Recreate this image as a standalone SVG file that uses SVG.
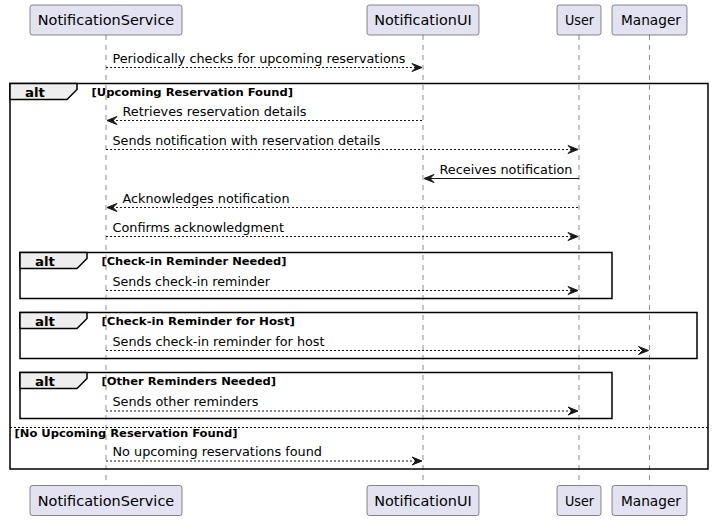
<svg xmlns="http://www.w3.org/2000/svg" width="713" height="521" viewBox="0 0 713 521">
<style>
.life{stroke:#181818;stroke-width:0.5;stroke-dasharray:5,5;fill:none}
.pbox{fill:#E2E2F0;stroke:#181818;stroke-width:0.5}
.ptxt{font-family:"DejaVu Sans",sans-serif;font-size:14px;fill:#000;text-anchor:middle}
.msg{stroke:#181818;stroke-width:1;fill:none}
.dot{stroke-dasharray:2,2}
.head{fill:#181818;stroke:#181818;stroke-width:1}
.mtxt{font-family:"DejaVu Sans",sans-serif;font-size:13px;fill:#000}
.frame{fill:none;stroke:#000;stroke-width:1.5}
.tab{fill:#EEEEEE;stroke:#000;stroke-width:1.5}
.alt{font-family:"DejaVu Sans",sans-serif;font-size:13px;font-weight:bold;fill:#000}
.guard{font-family:"DejaVu Sans",sans-serif;font-size:11px;font-weight:bold;fill:#000}
.sep{stroke:#000;stroke-width:1;stroke-dasharray:2,2;fill:none}
</style>
<defs>
<path id="ar" d="M-10,-4 L0,0 L-10,4 L-6,0 Z"/>
</defs>
<g id="lifelines">
<line class="life" x1="106" y1="35" x2="106" y2="486"/>
<line class="life" x1="423" y1="35" x2="423" y2="486"/>
<line class="life" x1="579" y1="35" x2="579" y2="486"/>
<line class="life" x1="649.5" y1="35" x2="649.5" y2="486"/>
</g>
<g id="frames">
<rect class="frame" x="10" y="83.5" width="698" height="385.5"/>
<path class="tab" d="M10,83.5 L77,83.5 L77,89.5 L67,99.5 L10,99.5 Z"/>
<text class="alt" x="25" y="96.5" textLength="20" lengthAdjust="spacingAndGlyphs">alt</text>
<text class="guard" x="91.5" y="95.5" textLength="201.5" lengthAdjust="spacingAndGlyphs">[Upcoming Reservation Found]</text>
<line class="sep" x1="10" y1="427.5" x2="708" y2="427.5"/>
<text class="guard" x="14.5" y="437" textLength="223" lengthAdjust="spacingAndGlyphs">[No Upcoming Reservation Found]</text>
<rect class="frame" x="20" y="252.5" width="592" height="46"/>
<path class="tab" d="M20,252.5 L87,252.5 L87,258.5 L77,268.5 L20,268.5 Z"/>
<text class="alt" x="35" y="265.5" textLength="20" lengthAdjust="spacingAndGlyphs">alt</text>
<text class="guard" x="101.5" y="264.5" textLength="185" lengthAdjust="spacingAndGlyphs">[Check-in Reminder Needed]</text>
<rect class="frame" x="20" y="312.5" width="677" height="46"/>
<path class="tab" d="M20,312.5 L87,312.5 L87,318.5 L77,328.5 L20,328.5 Z"/>
<text class="alt" x="35" y="325.5" textLength="20" lengthAdjust="spacingAndGlyphs">alt</text>
<text class="guard" x="101.5" y="324.5" textLength="193.5" lengthAdjust="spacingAndGlyphs">[Check-in Reminder for Host]</text>
<rect class="frame" x="20" y="372.5" width="592" height="46"/>
<path class="tab" d="M20,372.5 L87,372.5 L87,378.5 L77,388.5 L20,388.5 Z"/>
<text class="alt" x="35" y="385.5" textLength="20" lengthAdjust="spacingAndGlyphs">alt</text>
<text class="guard" x="101.5" y="384.5" textLength="174.5" lengthAdjust="spacingAndGlyphs">[Other Reminders Needed]</text>
</g>
<g id="NotificationService">
<rect class="pbox" x="30" y="5" width="152" height="30" rx="2.5"/>
<text class="ptxt" x="106" y="25" textLength="136.5" lengthAdjust="spacingAndGlyphs">NotificationService</text>
<rect class="pbox" x="30" y="485.5" width="152" height="30" rx="2.5"/>
<text class="ptxt" x="106" y="505.5" textLength="136.5" lengthAdjust="spacingAndGlyphs">NotificationService</text>
</g>
<g id="NotificationUI">
<rect class="pbox" x="367" y="5" width="112" height="30" rx="2.5"/>
<text class="ptxt" x="423" y="25" textLength="97.5" lengthAdjust="spacingAndGlyphs">NotificationUI</text>
<rect class="pbox" x="367" y="485.5" width="112" height="30" rx="2.5"/>
<text class="ptxt" x="423" y="505.5" textLength="97.5" lengthAdjust="spacingAndGlyphs">NotificationUI</text>
</g>
<g id="User">
<rect class="pbox" x="557" y="5" width="44" height="30" rx="2.5"/>
<text class="ptxt" x="579.5" y="25" textLength="29" lengthAdjust="spacingAndGlyphs">User</text>
<rect class="pbox" x="557" y="485.5" width="44" height="30" rx="2.5"/>
<text class="ptxt" x="579.5" y="505.5" textLength="29" lengthAdjust="spacingAndGlyphs">User</text>
</g>
<g id="Manager">
<rect class="pbox" x="612" y="5" width="75" height="30" rx="2.5"/>
<text class="ptxt" x="651" y="25" textLength="60" lengthAdjust="spacingAndGlyphs">Manager</text>
<rect class="pbox" x="612" y="485.5" width="75" height="30" rx="2.5"/>
<text class="ptxt" x="651" y="505.5" textLength="60" lengthAdjust="spacingAndGlyphs">Manager</text>
</g>
<g id="connectors">
<line class="msg dot" x1="106" y1="67.5" x2="421" y2="67.5"/>
<use href="#ar" class="head" transform="translate(422,67.5)"/>
<text class="mtxt" x="112.5" y="62.5" textLength="293" lengthAdjust="spacingAndGlyphs">Periodically checks for upcoming reservations</text>

<line class="msg dot" x1="108" y1="120.5" x2="423" y2="120.5"/>
<use href="#ar" class="head" transform="translate(107,120.5) scale(-1,1)"/>
<text class="mtxt" x="122.5" y="115.5" textLength="184" lengthAdjust="spacingAndGlyphs">Retrieves reservation details</text>

<line class="msg dot" x1="106" y1="149.5" x2="577" y2="149.5"/>
<use href="#ar" class="head" transform="translate(578,149.5)"/>
<text class="mtxt" x="112.5" y="144.5" textLength="268" lengthAdjust="spacingAndGlyphs">Sends notification with reservation details</text>

<line class="msg" x1="425" y1="178.5" x2="579" y2="178.5"/>
<use href="#ar" class="head" transform="translate(424,178.5) scale(-1,1)"/>
<text class="mtxt" x="439.5" y="173.5" textLength="133" lengthAdjust="spacingAndGlyphs">Receives notification</text>

<line class="msg dot" x1="108" y1="207.5" x2="579" y2="207.5"/>
<use href="#ar" class="head" transform="translate(107,207.5) scale(-1,1)"/>
<text class="mtxt" x="122.5" y="202.5" textLength="167" lengthAdjust="spacingAndGlyphs">Acknowledges notification</text>

<line class="msg dot" x1="106" y1="236.5" x2="577" y2="236.5"/>
<use href="#ar" class="head" transform="translate(578,236.5)"/>
<text class="mtxt" x="112.5" y="231.5" textLength="171.5" lengthAdjust="spacingAndGlyphs">Confirms acknowledgment</text>

<line class="msg dot" x1="106" y1="290.5" x2="577" y2="290.5"/>
<use href="#ar" class="head" transform="translate(578,290.5)"/>
<text class="mtxt" x="112.5" y="285.5" textLength="157.5" lengthAdjust="spacingAndGlyphs">Sends check-in reminder</text>

<line class="msg dot" x1="106" y1="350.5" x2="647.5" y2="350.5"/>
<use href="#ar" class="head" transform="translate(648.5,350.5)"/>
<text class="mtxt" x="112.5" y="345.5" textLength="212" lengthAdjust="spacingAndGlyphs">Sends check-in reminder for host</text>

<line class="msg dot" x1="106" y1="411" x2="577" y2="411"/>
<use href="#ar" class="head" transform="translate(578,411)"/>
<text class="mtxt" x="112.5" y="406" textLength="146" lengthAdjust="spacingAndGlyphs">Sends other reminders</text>

<line class="msg dot" x1="106" y1="461" x2="421" y2="461"/>
<use href="#ar" class="head" transform="translate(422,461)"/>
<text class="mtxt" x="112.5" y="456" textLength="209.5" lengthAdjust="spacingAndGlyphs">No upcoming reservations found</text>
</g>
</svg>
